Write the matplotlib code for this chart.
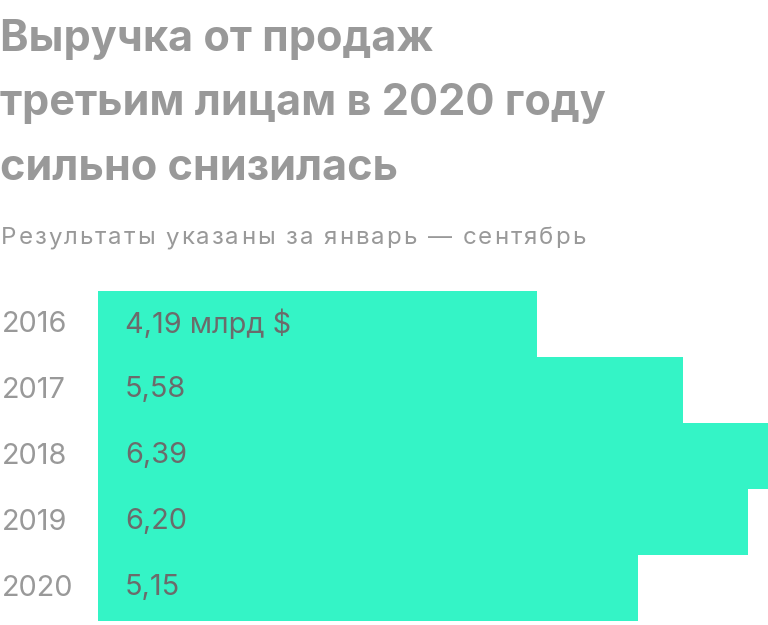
import matplotlib
matplotlib.use("Agg")
import matplotlib.pyplot as plt

years = ["2016", "2017", "2018", "2019", "2020"]
revenue = [4.19, 5.58, 6.39, 6.20, 5.15]
value_labels = ["4,19 млрд $", "5,58", "6,39", "6,20", "5,15"]

title_lines = ["Выручка от продаж", "третьим лицам в 2020 году", "сильно снизилась"]
subtitle = "Результаты указаны за январь — сентябрь"

W, H = 768, 625
plt.rcParams['font.family'] = ['Inter', 'DejaVu Sans']

fig = plt.figure(figsize=(W / 100, H / 100), dpi=100)
renderer = fig.canvas.get_renderer()


def spaced_text(x_px, y_px, s, track, **kw):
    """Draw s letter by letter with extra spacing of track pixels."""
    probe = fig.text(0, 0, "", **kw)
    for i, ch in enumerate(s):
        probe.set_text(s[:i] + "|")
        w_full = probe.get_window_extent(renderer).width
        probe.set_text("|")
        w_bar = probe.get_window_extent(renderer).width
        x = x_px + (w_full - w_bar) + i * track
        fig.text(x / W, 1 - y_px / H, ch, ha='left', va='baseline', **kw)
    probe.remove()


# title, one text per line
for k, line in enumerate(title_lines):
    fig.text(0 / W, 1 - (51 + 64.5 * k) / H, line, fontsize=31.1, fontweight='bold',
             color='#999999', ha='left', va='baseline')
spaced_text(1, 244, subtitle, 2.0, fontsize=17.3, color='#999999')

ax = fig.add_axes([98 / W, 1 - 621 / H, 1 - 98 / W, 330 / H])
y = range(len(years))
ax.barh(y, revenue, height=1.0, color='#34F4C6', edgecolor='none')
ax.set_xlim(0, max(revenue))
ax.set_ylim(len(years) - 0.5, -0.5)
ax.axis('off')

for i, (yr, lab) in enumerate(zip(years, value_labels)):
    ax.annotate(lab, xy=(0, i), xytext=(27, 0), textcoords='offset pixels',
                ha='left', va='center', fontsize=20.8, color='#6b6b6b')
    ax.annotate(yr, xy=(0, i), xytext=(-96, 0), textcoords='offset pixels',
                ha='left', va='center', fontsize=20.8, color='#999999',
                annotation_clip=False)

fig.savefig("out.png", dpi=100)
